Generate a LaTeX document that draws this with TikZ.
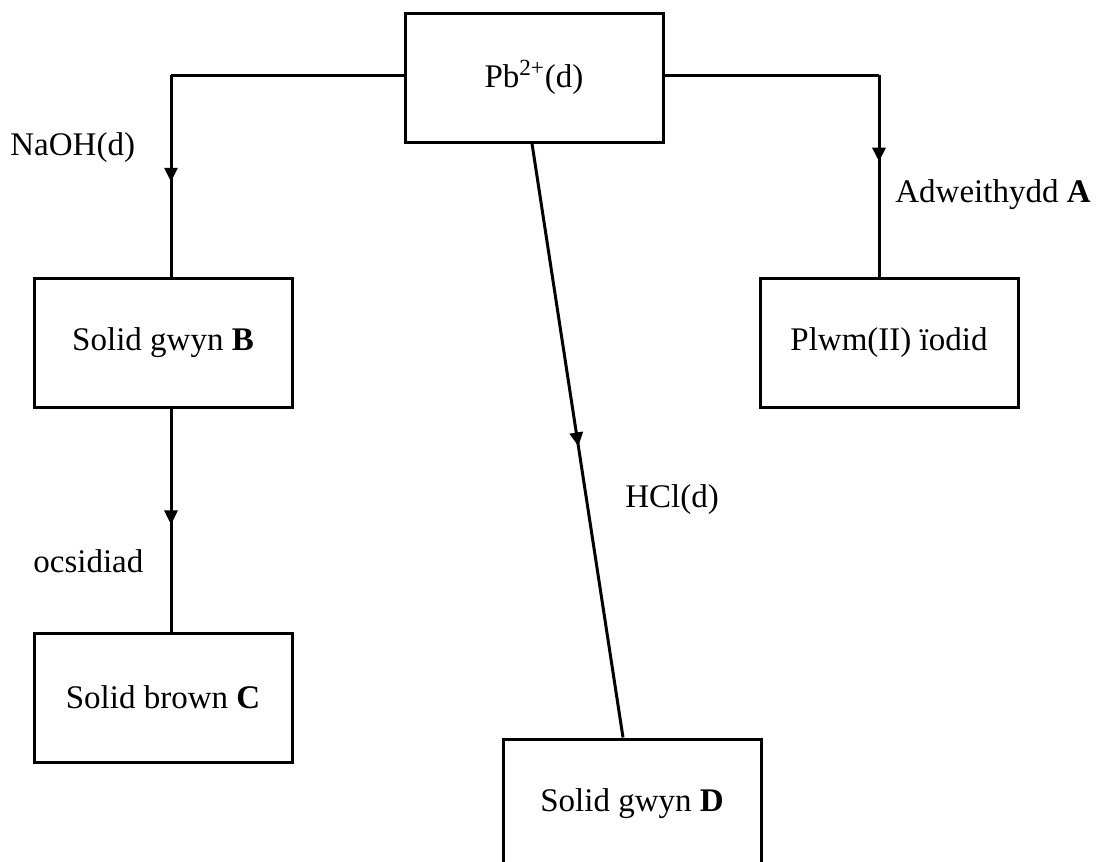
\documentclass[tikz,border=0pt]{standalone}
\usepackage{fontspec}
\setmainfont{Liberation Serif}
\usetikzlibrary{arrows.meta,decorations.markings}
\begin{document}
\begin{tikzpicture}[x=0.5pt,y=-0.5pt,
  box/.style={draw,line width=1.5pt,minimum width=129pt,minimum height=64.5pt,inner sep=0pt,font=\fontsize{16.5}{20}\selectfont},
  lbl/.style={font=\fontsize{16.5}{20}\selectfont,inner sep=0pt},
  conn/.style={line width=1.5pt},
  midarrow/.style={postaction={decorate},decoration={markings,mark=at position #1 with {\arrow{Triangle[length=7pt,width=6.5pt]}}}}
]
\useasboundingbox (0,0) rectangle (1099,862);
\clip (0,0) rectangle (1099,862);
\node[box] (top) at (534,77.5) {Pb\textsuperscript{2+}(d)};
\node[box] (B) at (163,342.5) {Solid gwyn \textbf{B}};
\node[box] (C) at (163,697.5) {Solid brown \textbf{C}};
\node[box] (P) at (889,342.5) {Plwm(II) ïodid};
\node[box] (D) at (632,803.5) {Solid gwyn \textbf{D}};
\coordinate (k1) at (171,75);
\coordinate (k2) at (879,75);
\draw[conn] (top.west |- k1) -- (k1);
\draw[conn,midarrow=0.53] (k1) -- (B.north -| k1);
\draw[conn] (top.east |- k2) -- (k2);
\draw[conn,midarrow=0.43] (k2) -- (P.north -| k2);
\draw[conn,midarrow=0.52] (B.south -| k1) -- (C.north -| k1);
\draw[conn,midarrow=0.51] ([xshift=-1pt]top.south) -- ([xshift=-4.5pt]D.north);
\node[lbl,anchor=base west] (l1) at (10,155) {NaOH(d)};
\node[lbl,anchor=base west] (l2) at (33,572) {ocsidiad};
\node[lbl,anchor=base west] (l3) at (895,202) {Adweithydd \textbf{A}};
\node[lbl,anchor=base west] (l4) at (625,507) {HCl(d)};
\end{tikzpicture}
\end{document}
